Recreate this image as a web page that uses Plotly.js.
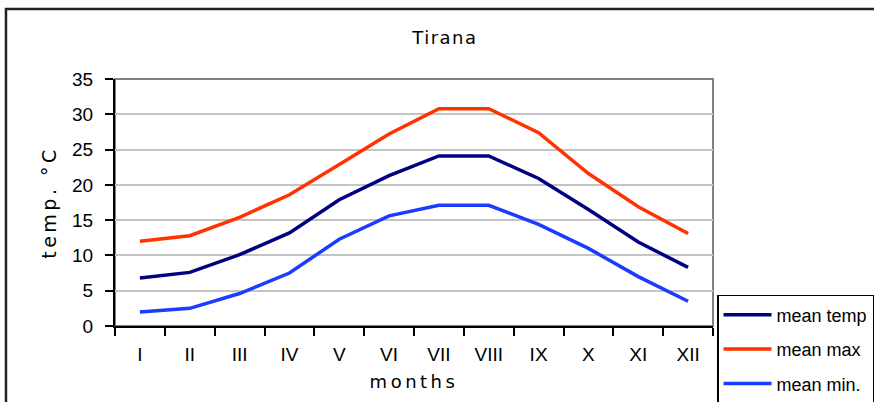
<!DOCTYPE html>
<html><head><meta charset="utf-8">
<script src="https://cdn.plot.ly/plotly-3.0.1.min.js"></script>
<style>
html,body{margin:0;padding:0;background:#fff;}
#chart{width:874px;height:402px;}
.xtitle{letter-spacing:3.5px;}
.ytitle{letter-spacing:3.5px;}
.gtitle{letter-spacing:1.5px;}
</style></head><body><div id="chart"></div>
<script>
const months = ['I','II','III','IV','V','VI','VII','VIII','IX','X','XI','XII'];
const meanTemp = [6.8, 7.6, 10.1, 13.2, 17.9, 21.3, 24.1, 24.1, 20.9, 16.5, 11.9, 8.3];
const meanMax  = [12.0, 12.8, 15.4, 18.6, 22.9, 27.2, 30.8, 30.8, 27.4, 21.6, 16.9, 13.1];
const meanMin  = [2.0, 2.5, 4.6, 7.5, 12.3, 15.6, 17.1, 17.1, 14.4, 11.0, 7.0, 3.5];
const seriesNames = ['mean temp', 'mean max', 'mean min.'];
const seriesColors = ['#000080', '#ff3300', '#1a3cff'];
const yTickVals = [0, 5, 10, 15, 20, 25, 30, 35];

const seriesValues = [meanTemp, meanMax, meanMin];
const traces = seriesValues.map((vals, i) => ({
  type: 'scatter', mode: 'lines',
  x: months, y: vals, name: seriesNames[i],
  legendgroup: 'g' + i,
  line: {color: seriesColors[i], width: 3.5},
  hoverinfo: 'skip'
}));

const tickFont = {family: 'Liberation Sans, Arial, sans-serif', size: 19, color: '#000'};

const layout = {
  width: 874, height: 402,
  margin: {l: 115, r: 161, t: 79, b: 76},
  paper_bgcolor: '#fff', plot_bgcolor: '#fff',
  title: {text: 'Tirana', x: 0.509, xref: 'container', y: 0.905, yref: 'container', yanchor: 'middle',
          font: {family: 'DejaVu Sans, sans-serif', size: 18, color: '#000'}},
  xaxis: {
    type: 'category', range: [-0.5, 11.5],
    tickson: 'boundaries', ticks: 'outside', ticklen: 8, tickwidth: 2, tickcolor: '#000',
    showline: true, linecolor: '#000', linewidth: 2,
    showgrid: false, zeroline: false,
    tickfont: tickFont, ticklabelstandoff: 10,
    title: {text: 'months', font: {family: 'DejaVu Sans, sans-serif', size: 18, color: '#000'}, standoff: 12},
    fixedrange: true
  },
  yaxis: {
    range: [0, 35], tickvals: yTickVals, ticktext: yTickVals.map(String),
    ticks: 'outside', ticklen: 8, tickwidth: 2, tickcolor: '#000',
    showline: true, linecolor: '#000', linewidth: 2,
    showgrid: true, gridcolor: '#c4c4c4', gridwidth: 2,
    zeroline: false,
    tickfont: tickFont, ticklabelstandoff: 8,
    title: {text: 'temp. °C', font: {family: 'DejaVu Sans, sans-serif', size: 19, color: '#000'}, standoff: 10},
    fixedrange: true
  },
  legend: {
    xref: 'container', yref: 'container',
    x: 0.8204, xanchor: 'left', y: 0.2662, yanchor: 'top',
    bgcolor: '#fff', bordercolor: '#000', borderwidth: 1.5,
    font: {family: 'Liberation Sans, Arial, sans-serif', size: 18, color: '#000'},
    traceorder: 'grouped', tracegroupgap: 8, itemwidth: 48
  },
  shapes: [
    {type: 'rect', xref: 'paper', yref: 'paper', x0: 0, x1: 1, y0: 0, y1: 1,
     line: {color: '#808080', width: 2}, layer: 'below'},
    {type: 'rect', xref: 'paper', yref: 'paper', x0: -0.1823, x1: 1.3, y0: -0.4, y1: 1.2834,
     line: {color: '#222', width: 2.5}, layer: 'below'}
  ],
  showlegend: true
};

Plotly.newPlot('chart', traces, layout, {displayModeBar: false, staticPlot: true});
</script>
</body></html>
